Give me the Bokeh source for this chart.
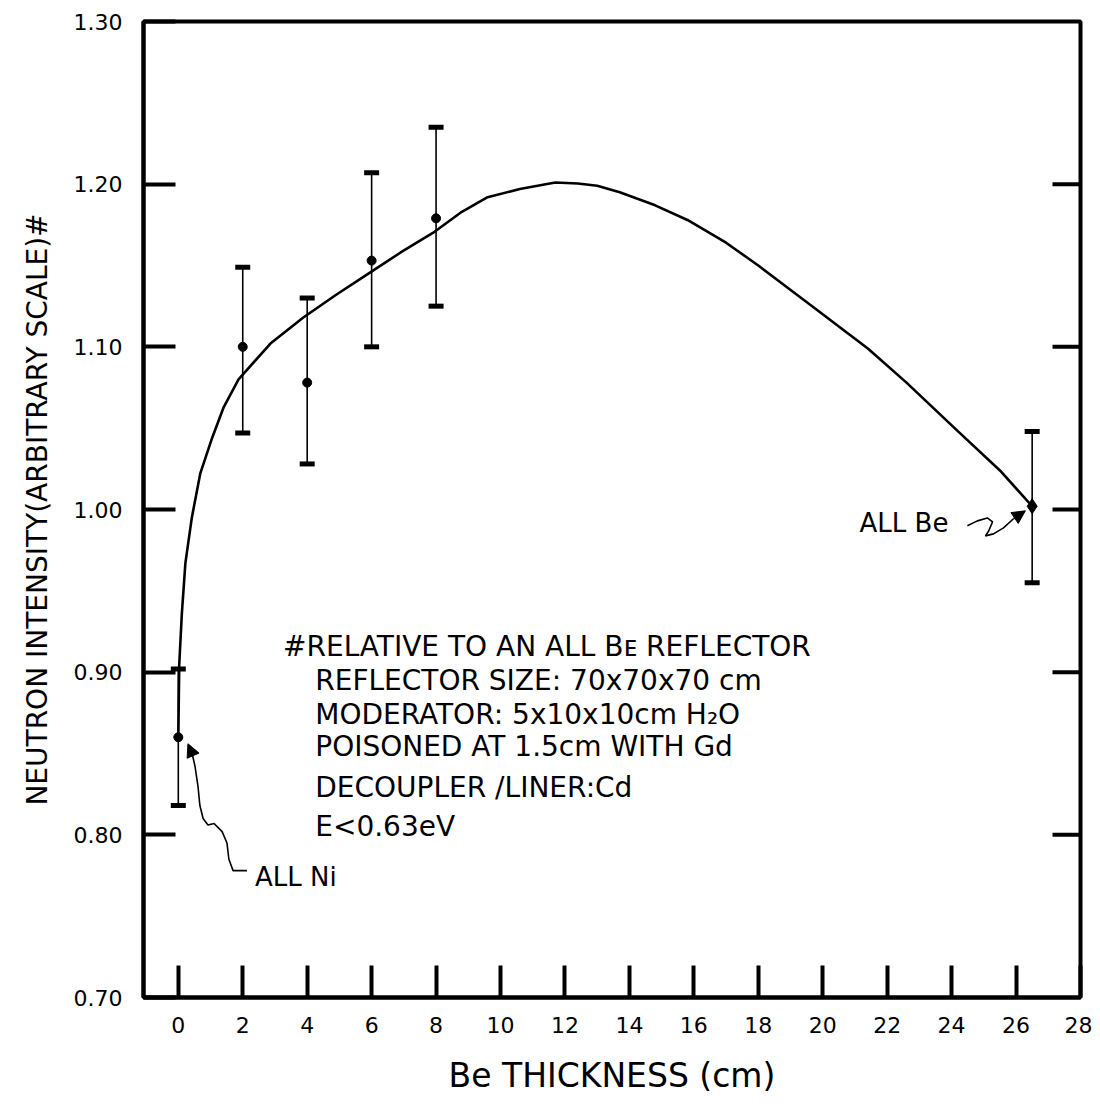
from bokeh.plotting import figure
from bokeh.models import Range1d, FixedTicker, Label, Arrow, NormalHead, PrintfTickFormatter
from bokeh.embed import file_html
from bokeh.resources import INLINE

# ---- measured data ----
thickness = [0, 2, 4, 6, 8, 26.5]
intensity = [0.860, 1.100, 1.078, 1.153, 1.179, 1.002]
err_upper = [0.902, 1.149, 1.130, 1.207, 1.235, 1.048]
err_lower = [0.818, 1.047, 1.028, 1.100, 1.125, 0.955]

# ---- hand-drawn smooth curve ----
curve_x = [0.0, 0.03, 0.11, 0.22, 0.42, 0.68, 1.05, 1.41, 1.87, 2.86, 3.88, 4.9, 5.9, 6.9,
           7.9, 8.8, 9.6, 10.6, 11.7, 12.4, 13.0, 13.7, 14.8, 15.8, 17.0, 18.0, 19.6,
           21.4, 22.6, 24.2, 25.5, 26.5]
curve_y = [0.860, 0.905, 0.936, 0.967, 0.995, 1.022, 1.044, 1.063, 1.080, 1.102, 1.118,
           1.132, 1.145, 1.158, 1.170, 1.183, 1.192, 1.197, 1.201, 1.2004, 1.199, 1.195,
           1.187, 1.178, 1.164, 1.150, 1.126, 1.099, 1.078, 1.048, 1.024, 1.002]

x_ticks = [0, 2, 4, 6, 8, 10, 12, 14, 16, 18, 20, 22, 24, 26, 28]
y_ticks = [0.70, 0.80, 0.90, 1.00, 1.10, 1.20, 1.30]
right_ticks = [0.80, 0.90, 1.00, 1.10, 1.20]

# annotation curly leaders (data units)
ni_path_x = [2.13, 1.70, 1.57, 1.51, 1.36, 1.11, 0.92, 0.77, 0.67, 0.61, 0.52, 0.43]
ni_path_y = [0.778, 0.778, 0.785, 0.795, 0.802, 0.807, 0.806, 0.810, 0.818, 0.830, 0.842, 0.850]
be_path_x = [24.49, 24.80, 25.11, 25.27, 25.15, 25.05, 25.30, 25.61, 25.92]
be_path_y = [0.990, 0.993, 0.9948, 0.9924, 0.9868, 0.9838, 0.9850, 0.9887, 0.9943]

note_lines = ["#RELATIVE TO AN ALL B\u1d07 REFLECTOR",
              "REFLECTOR SIZE: 70x70x70 cm",
              "MODERATOR: 5x10x10cm H\u2082O",
              "POISONED AT 1.5cm WITH Gd",
              "DECOUPLER /LINER:Cd",
              "E<0.63eV"]

FONT = "DejaVu Sans"
X0, X1 = -1.08, 28.0
FRAME_W = 937

p = figure(width=1092, height=1098, output_backend="svg", toolbar_location=None,
           x_range=Range1d(X0, X1), y_range=Range1d(0.70, 1.30),
           min_border_left=143, min_border_right=12, min_border_top=21, min_border_bottom=101,
           background_fill_color="white", border_fill_color="white")
p.xgrid.visible = False
p.ygrid.visible = False
p.outline_line_color = "black"
p.outline_line_width = 4
p.outline_line_alpha = 1.0

for ax in (p.xaxis[0], p.yaxis[0]):
    ax.axis_line_width = 4
    ax.major_tick_line_width = 4
    ax.major_tick_in = 32
    ax.major_tick_out = 0
    ax.minor_tick_line_color = None
    ax.major_label_text_font = FONT
    ax.major_label_text_font_size = "22px"
    ax.major_label_text_color = "black"
    ax.axis_label_text_font = FONT
    ax.axis_label_text_font_style = "normal"
    ax.axis_label_text_color = "black"

p.xaxis[0].ticker = FixedTicker(ticks=x_ticks)
p.xaxis[0].formatter = PrintfTickFormatter(format="%d")
p.xaxis[0].major_label_standoff = 19
p.xaxis[0].axis_label = "Be THICKNESS (cm)"
p.xaxis[0].axis_label_text_font_size = "33px"
p.xaxis[0].axis_label_standoff = 20

p.yaxis[0].ticker = FixedTicker(ticks=y_ticks)
p.yaxis[0].formatter = PrintfTickFormatter(format="%.2f")
p.yaxis[0].major_label_standoff = 21
p.yaxis[0].axis_label = "NEUTRON INTENSITY(ARBITRARY SCALE)#"
p.yaxis[0].axis_label_text_font_size = "28px"
p.yaxis[0].axis_label_standoff = 17

# inward ticks on the right frame edge (28 px long)
tick_len = 28 * (X1 - X0) / FRAME_W
p.segment(x0=[X1 - tick_len] * len(right_ticks), y0=right_ticks,
          x1=[X1] * len(right_ticks), y1=right_ticks, line_color="black", line_width=4)

# curve
p.line(curve_x, curve_y, line_color="black", line_width=2.6)

# error bars
p.segment(x0=thickness, y0=err_lower, x1=thickness, y1=err_upper, line_color="black", line_width=1.6)
p.scatter(thickness + thickness, err_upper + err_lower, marker="dash", size=15,
          line_color="black", line_width=5)

# points
p.scatter(thickness[:-1], intensity[:-1], marker="circle", size=9, color="black")
p.scatter(thickness[-1:], intensity[-1:], marker="diamond", size=15, color="black")

# annotation leaders
p.line(ni_path_x, ni_path_y, line_color="black", line_width=1.6)
p.add_layout(Arrow(end=NormalHead(size=13, fill_color="black", line_color="black"),
                   x_start=ni_path_x[-1], y_start=ni_path_y[-1], x_end=0.30, y_end=0.856,
                   line_color="black", line_width=1.6))
p.line(be_path_x, be_path_y, line_color="black", line_width=1.6)
p.add_layout(Arrow(end=NormalHead(size=13, fill_color="black", line_color="black"),
                   x_start=be_path_x[-1], y_start=be_path_y[-1], x_end=26.29, y_end=0.9992,
                   line_color="black", line_width=1.6))

p.add_layout(Label(x=2.38, y=0.774, text="ALL Ni", text_font=FONT, text_font_size="26px",
                   text_baseline="middle", text_align="left", text_color="black"))
p.add_layout(Label(x=23.9, y=0.992, text="ALL Be", text_font=FONT, text_font_size="26px",
                   text_baseline="middle", text_align="right", text_color="black"))

note_x = [3.25, 4.25, 4.25, 4.25, 4.25, 4.25]
note_y = [0.916, 0.895, 0.874, 0.854, 0.829, 0.805]
for tx, ty, t in zip(note_x, note_y, note_lines):
    p.add_layout(Label(x=tx, y=ty, text=t, text_font=FONT, text_font_size="28px",
                       text_baseline="middle", text_align="left", text_color="black"))

open("out.html", "w").write(file_html(p, INLINE))
